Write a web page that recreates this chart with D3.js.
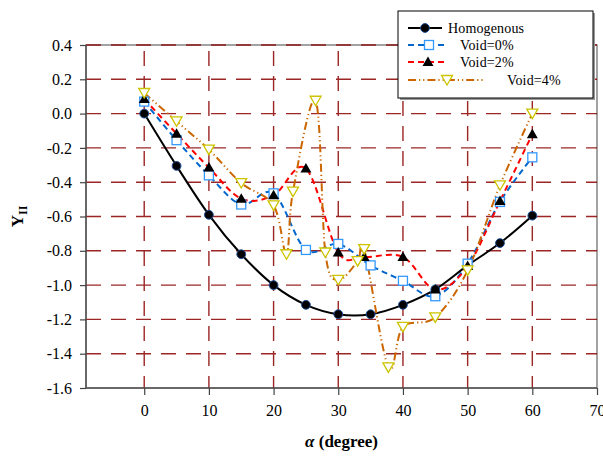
<!DOCTYPE html>
<html>
<head>
<meta charset="utf-8">
<script src="https://cdn.jsdelivr.net/npm/d3@7"></script>
<style>
  body { margin: 0; background: #fff; }
</style>
</head>
<body>
<svg width="603" height="456"></svg>
<script>
// data
const alpha = [0, 5, 10, 15, 20, 25, 30, 35, 40, 45, 50, 55, 60];
const homogenous = [0, -0.305, -0.59, -0.82, -1.0, -1.115, -1.17, -1.17, -1.115, -1.025, -0.885, -0.755, -0.595];
const void0 = [0.07, -0.155, -0.36, -0.53, -0.465, -0.795, -0.76, -0.885, -0.975, -1.065, -0.875, -0.515, -0.255];
const alpha2 = [0, 5, 10, 15, 20, 25, 30, 34, 40, 45, 50, 55, 60];
const void2 = [0.085, -0.117, -0.315, -0.496, -0.476, -0.32, -0.81, -0.836, -0.836, -1.026, -0.889, -0.51, -0.12];
const alpha4 = [0, 5, 10, 15, 20, 22, 23, 26.5, 28, 30, 33, 34, 37.75, 40, 45, 50, 55, 60];
const void4 = [0.12, -0.045, -0.21, -0.405, -0.535, -0.82, -0.455, 0.075, -0.81, -0.97, -0.86, -0.79, -1.48, -1.244, -1.188, -0.914, -0.418, 0.0];

const xTicks = [0, 10, 20, 30, 40, 50, 60, 70];
const yTicks = [-1.6, -1.4, -1.2, -1.0, -0.8, -0.6, -0.4, -0.2, 0.0, 0.2, 0.4];
const seriesNames = ["Homogenous", "Void=0%", "Void=2%", "Void=4%"];

const serif = "Liberation Serif";
const svg = d3.select("svg");
const pl = 86, pr = 597, pt = 45, pb = 388;

const x = d3.scaleLinear().domain([-9, 70]).range([pl, pr]);
const y = d3.scaleLinear().domain([-1.6, 0.4]).range([pb, pt]);
const fmt = d3.formatLocale({decimal: ".", thousands: ",", grouping: [3], currency: ["", ""], minus: "-"}).format(".1f");

// plot border
svg.append("rect")
  .attr("x", pl).attr("y", pt)
  .attr("width", pr - pl).attr("height", pb - pt)
  .attr("fill", "none").attr("stroke", "#666").attr("stroke-width", 1.2);

// grid
const grid = svg.append("g")
  .attr("stroke", "#8B0000").attr("stroke-width", 1.4)
  .attr("stroke-dasharray", "15,10").attr("opacity", 0.85);
grid.selectAll(".h").data(yTicks.slice(1)).join("line")
  .attr("x1", pl).attr("x2", pr)
  .attr("y1", d => y(d)).attr("y2", d => y(d));
grid.selectAll(".v").data(xTicks.slice(0, -1)).join("line")
  .attr("x1", d => x(d)).attr("x2", d => x(d))
  .attr("y1", pt + 6).attr("y2", pb);

// axes
const yAxis = svg.append("g")
  .attr("transform", `translate(${pl},0)`)
  .call(d3.axisLeft(y).tickValues(yTicks).tickFormat(fmt).tickSize(6).tickPadding(8));
const xAxis = svg.append("g")
  .attr("transform", `translate(0,${pb})`)
  .call(d3.axisBottom(x).tickValues(xTicks).tickSize(7).tickPadding(10));
[xAxis, yAxis].forEach(g => {
  g.select(".domain").attr("stroke", "#555").attr("stroke-width", 1.5);
  g.selectAll(".tick line").attr("stroke", "#444").attr("stroke-width", 1.2);
  g.selectAll(".tick text").attr("fill", "#000")
    .style("font-family", serif).style("font-size", "16px");
});
yAxis.select(".domain").attr("d", `M0,${pt}V${pb}`);
xAxis.select(".domain").attr("d", `M${pl},0H${pr}`);

// axis titles
const xt = svg.append("text")
  .attr("x", (pl + pr) / 2).attr("y", 447)
  .attr("text-anchor", "middle")
  .style("font-family", serif).style("font-size", "17px").style("font-weight", "bold");
xt.append("tspan").style("font-style", "italic").text("α");
xt.append("tspan").text(" (degree)");

const yt = svg.append("text")
  .attr("transform", `translate(23,${(pt + pb) / 2}) rotate(-90)`)
  .attr("text-anchor", "middle")
  .style("font-family", serif).style("font-size", "17px").style("font-weight", "bold");
yt.append("tspan").text("Y");
yt.append("tspan").style("font-size", "12px").attr("dy", 4).text("II");

// series
const line = d3.line().x(d => x(d[0])).y(d => y(d[1])).curve(d3.curveCardinal.tension(0));
const zip = (xs, ys) => xs.map((v, i) => [v, ys[i]]);

const series = [
  {name: seriesNames[0], pts: zip(alpha, homogenous), color: "#000", dash: null, marker: "circle"},
  {name: seriesNames[1], pts: zip(alpha, void0), color: "#0066CC", dash: "6,4", marker: "square"},
  {name: seriesNames[2], pts: zip(alpha2, void2), color: "#FF0000", dash: "6,4", marker: "triangle"},
  {name: seriesNames[3], pts: zip(alpha4, void4), color: "#CC6600", dash: "8,3,1.2,3,1.2,3", marker: "down"}
];

function drawMarker(g, type, cx, cy) {
  if (type === "circle") {
    g.append("circle").attr("cx", cx).attr("cy", cy).attr("r", 4.4)
      .attr("fill", "#000").attr("stroke", "#1F4E99").attr("stroke-width", 1);
  } else if (type === "square") {
    g.append("rect").attr("x", cx - 4.5).attr("y", cy - 4.5).attr("width", 9).attr("height", 9)
      .attr("fill", "#fff").attr("stroke", "#3399FF").attr("stroke-width", 1.3);
  } else if (type === "triangle") {
    g.append("path").attr("d", `M${cx},${cy - 5.5}L${cx + 5.5},${cy + 4}L${cx - 5.5},${cy + 4}Z`)
      .attr("fill", "#000");
  } else {
    g.append("path").attr("d", `M${cx - 5.5},${cy - 4.5}L${cx + 5.5},${cy - 4.5}L${cx},${cy + 5}Z`)
      .attr("fill", "#fff").attr("stroke", "#CCC400").attr("stroke-width", 1.3);
  }
}

const plot = svg.append("g");
series.forEach(s => {
  plot.append("path").datum(s.pts)
    .attr("d", line)
    .attr("fill", "none").attr("stroke", s.color).attr("stroke-width", 2)
    .attr("stroke-dasharray", s.dash);
});
series.forEach(s => {
  const g = plot.append("g");
  s.pts.forEach(p => drawMarker(g, s.marker, x(p[0]), y(p[1])));
});

// legend
const lg = svg.append("g");
lg.append("rect").attr("x", 400).attr("y", 13).attr("width", 195).attr("height", 87).attr("fill", "#999");
lg.append("rect").attr("x", 398).attr("y", 11).attr("width", 195).attr("height", 87)
  .attr("fill", "#fff").attr("stroke", "#000").attr("stroke-width", 1);
const legendRows = [
  {y: 28, x1: 408, x2: 442, mx: 425, tx: 448},
  {y: 45, x1: 408, x2: 446, mx: 429, tx: 460},
  {y: 62, x1: 408, x2: 446, mx: 428, tx: 460},
  {y: 80, x1: 408, x2: 485, mx: 447, tx: 507}
];
series.forEach((s, i) => {
  const r = legendRows[i];
  lg.append("line").attr("x1", r.x1).attr("x2", r.x2).attr("y1", r.y).attr("y2", r.y)
    .attr("stroke", s.color).attr("stroke-width", 2).attr("stroke-dasharray", s.dash);
  drawMarker(lg, s.marker, r.mx, r.y);
  lg.append("text").attr("x", r.tx).attr("y", r.y + 5)
    .style("font-family", serif).style("font-size", "14px").style("letter-spacing", "0.15px")
    .text(s.name);
});
</script>
</body>
</html>
